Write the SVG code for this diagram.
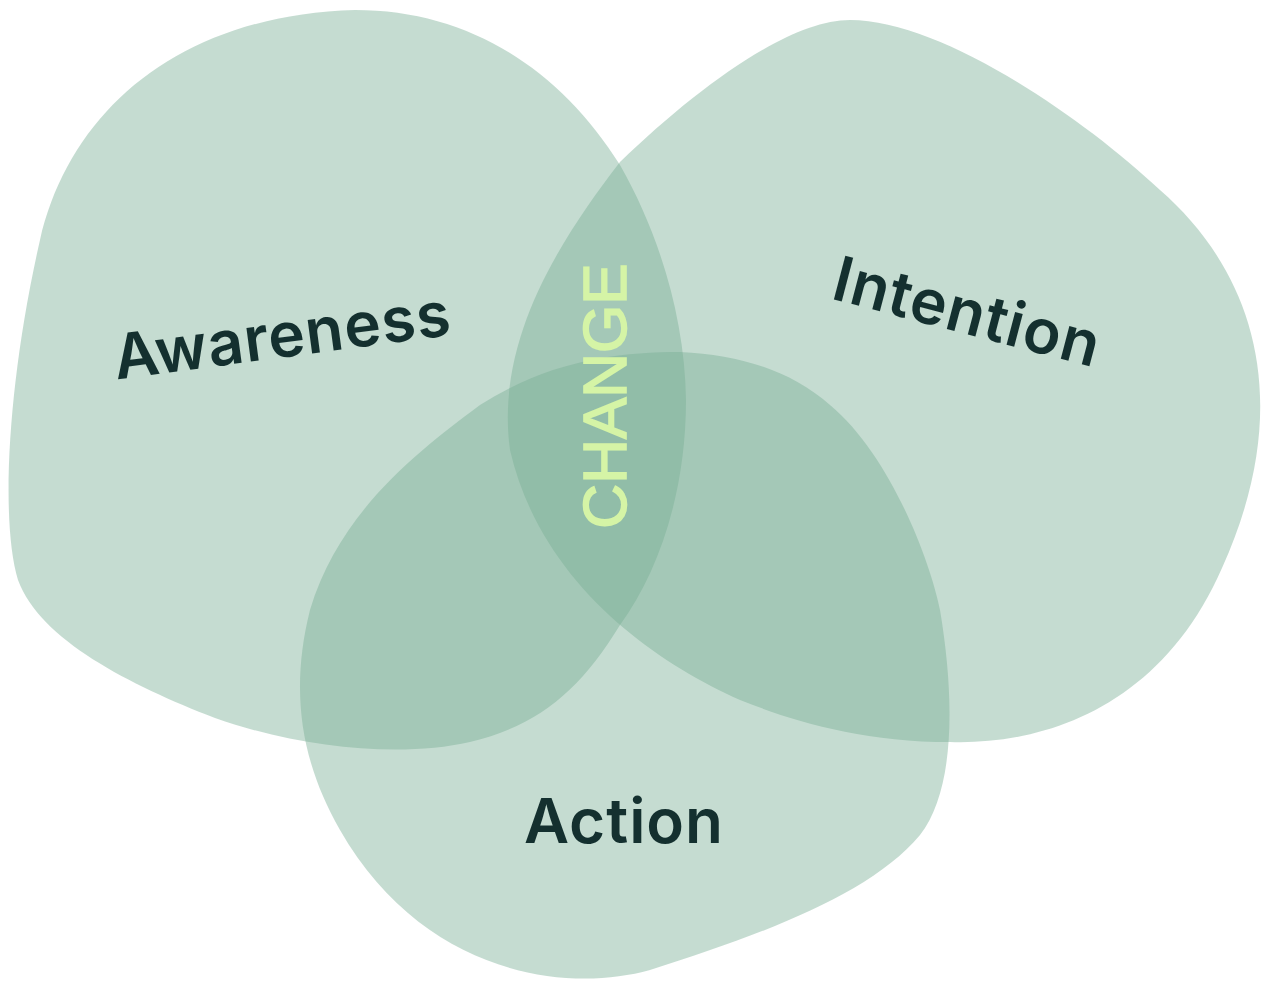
<svg xmlns="http://www.w3.org/2000/svg" width="1272" height="986" viewBox="0 0 1272 986">
<style>
.blob{fill:#78ae94;fill-opacity:0.43;stroke:none}
.lbl{font-family:Inter,"Liberation Sans",sans-serif;font-weight:600;fill:#14302f;font-size:62px;letter-spacing:1px}
.chg{font-family:"Liberation Sans",Arial,sans-serif;font-size:62px;fill:#d5f4a6;stroke:#d5f4a6;stroke-width:1.6}
</style>
<rect width="1272" height="986" fill="#ffffff"/>
<g id="awareness">
<path class="blob" d="M 355 10 C 470 10, 560 70, 620 165 C 660 235, 685 320, 686 400 C 686 490, 660 570, 620 625 C 580 690, 540 725, 470 742 C 400 758, 300 748, 215 718 C 130 685, 40 640, 18 580 C 0 520, 8 380, 40 240 C 70 110, 180 15, 355 10 Z"/>
<text class="lbl" text-anchor="middle" transform="translate(285,357) rotate(-7.6)">Awareness</text>
</g>
<g id="intention">
<path class="blob" d="M 620 162 C 700 85, 790 20, 850 20 C 940 20, 1080 115, 1160 190 C 1252 270, 1298 400, 1222 568 C 1160 710, 1040 745, 950 742 C 860 742, 790 720, 740 700 C 650 660, 540 580, 510 450 C 495 340, 560 240, 620 162 Z"/>
<text class="lbl" text-anchor="middle" transform="translate(962,333) rotate(14.7)">Intention</text>
</g>
<g id="action">
<path class="blob" d="M 480 405 C 550 360, 620 352, 680 352 C 740 355, 790 370, 830 405 C 890 455, 930 560, 940 610 C 955 700, 955 790, 920 835 C 870 895, 760 935, 650 970 C 560 995, 420 970, 340 830 C 300 760, 290 690, 310 610 C 340 510, 420 450, 480 405 Z"/>
<text class="lbl" text-anchor="middle" x="624" y="843">Action</text>
</g>
<g id="change">
<text class="chg" text-anchor="middle" transform="translate(626,396) rotate(-90)">CHANGE</text>
</g>
<g id="connectors"></g>
</svg>
